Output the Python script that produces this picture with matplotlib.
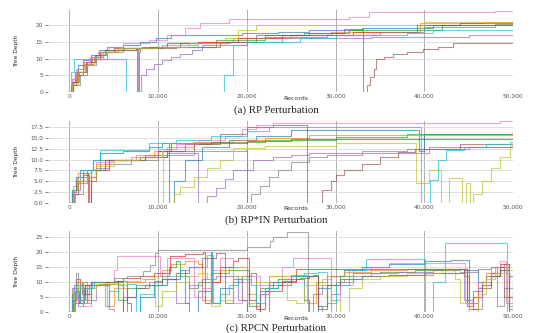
import matplotlib
matplotlib.use("Agg")
import matplotlib.pyplot as plt
from matplotlib.ticker import FuncFormatter

# colours of the 10 runs (matplotlib default cycle)
run_colors = ["#1f77b4", "#ff7f0e", "#2ca02c", "#d62728", "#9467bd",
              "#8c564b", "#e377c2", "#7f7f7f", "#bcbd22", "#17becf"]

x_ticks = [0, 10000, 20000, 30000, 40000, 50000]

# (a) RP Perturbation -- (records, tree depth) breakpoints per run
rp_blue = [(0, 0), (250, 3), (600, 6), (1000, 8), (1600, 9.5), (2400, 11), (3300, 12.5), (4300, 13.5),
           (6000, 14), (8000, 15), (9800, 16), (11500, 17), (19500, 17.5), (23500, 18), (27000, 18.5),
           (33000, 19), (41000, 20), (50000, 20.3)]
rp_orange = [(0, 0), (350, 4), (900, 7), (1700, 9), (2600, 10.5), (3600, 12), (5200, 12.5), (7800, 13),
             (10500, 14), (14500, 15), (18500, 16), (25000, 17), (29500, 18), (39500, 20.5), (46500, 21),
             (50000, 21)]
rp_green = [(0, 0), (450, 3), (1100, 6), (2000, 9), (3000, 11), (4100, 12.5), (6200, 13), (9000, 13.5),
            (12500, 14.5), (16500, 15.5), (22000, 17), (26500, 17.5), (31500, 18.5), (42000, 20), (50000, 20.5)]
rp_red = [(0, 0), (200, 2), (800, 5), (1500, 8), (2500, 10), (3500, 12), (5000, 13), (8200, 13.5),
          (11000, 14.5), (14500, 15), (19000, 16), (24000, 17), (32000, 17.8), (39200, 20), (44000, 20.5),
          (50000, 20.5)]
rp_purple = [(0, 0), (300, 3), (900, 6), (1800, 8.5), (2800, 10.5), (3800, 12), (5500, 13), (7600, 13),
             (7700, 0), (8100, 5), (8600, 7), (9500, 8.5), (10500, 9.5), (11500, 10.5), (12500, 11.5),
             (13800, 12.5), (15000, 13.5), (16500, 14.5), (18000, 15), (24000, 16), (34000, 16.5),
             (45000, 17), (50000, 17.5)]
rp_brown = [(0, 0), (400, 3), (1000, 6), (1900, 9), (2900, 11), (4000, 12.5), (7500, 13), (7600, 0),
            (7800, 12), (8000, 13), (12000, 13.5), (17000, 15), (21000, 17), (27000, 17.5), (31000, 18.7),
            (33000, 18.7), (33100, 0), (33500, 2), (33900, 4.5), (34300, 7), (34600, 9.8), (35500, 10.5),
            (36500, 11.5), (38000, 12), (39900, 12.8), (41500, 13.5), (43200, 14.7), (50000, 14.7)]
rp_pink = [(0, 0), (300, 4), (800, 7), (1500, 9), (2300, 10.5), (3200, 12), (4500, 13.5), (6000, 14.5),
           (9000, 15.5), (11000, 17), (13000, 19), (14700, 20.7), (18000, 21.8), (30500, 21.8),
           (31500, 22.5), (33800, 23.8), (47500, 23.8), (48000, 24.2), (50000, 24.2)]
rp_gray = [(0, 0), (400, 2), (1200, 5), (2000, 8), (3000, 10), (4200, 12), (6000, 13), (9000, 13.5),
           (15000, 14), (20000, 16), (22000, 16.5), (29000, 17), (35000, 18), (40000, 19.5), (48000, 20.3),
           (50000, 20.3)]
rp_olive = [(0, 0), (300, 2.5), (1000, 6), (1800, 8), (2800, 10), (3800, 12), (5500, 13), (10000, 13.5),
            (13500, 14.5), (17500, 16), (19000, 18.5), (21000, 20), (38000, 20), (40000, 21), (50000, 21.3)]
rp_cyan = [(0, 0), (150, 6), (500, 10), (6200, 10), (6400, 0), (17200, 0), (17400, 5), (18200, 5),
           (18500, 14), (20000, 15), (26000, 16), (30000, 17), (38000, 17.5), (41000, 18.5), (50000, 18.5)]

# (b) RP*IN Perturbation
in_blue = [(0, 0), (300, 3), (800, 6), (1200, 7.5), (2000, 7.5), (2700, 10), (3500, 11.6), (6000, 12),
           (9000, 13), (10500, 13.8), (11100, 13.8), (11200, 0), (11500, 0), (11800, 5), (13000, 10),
           (15000, 13), (18000, 14.5), (21000, 15.5), (25000, 16.8), (39300, 16.8), (39400, 12),
           (40000, 16), (50000, 16.8)]
in_orange = [(0, 0), (400, 4), (1000, 7), (2500, 7.5), (3000, 9), (4000, 9.9), (7000, 10.5), (9500, 12),
             (11000, 13), (14000, 14), (18500, 14.5), (22000, 15), (27000, 15.7), (50000, 15.7)]
in_green = [(0, 0), (500, 3), (1200, 6), (2000, 7.5), (3500, 9.9), (8000, 10.5), (10000, 12), (13000, 13.5),
            (16000, 14), (22000, 14.5), (30000, 15.2), (38000, 16), (50000, 16.3)]
in_red = [(0, 0), (300, 2), (1000, 5), (1500, 7), (2100, 7), (2150, 0), (2400, 6), (3000, 7.5), (4500, 9.9),
          (7000, 9.9), (8500, 11), (10000, 12), (11500, 13.8), (20000, 14.2), (25000, 14.7), (50000, 14.7)]
in_purple = [(0, 0), (400, 2), (1000, 4.5), (2000, 6), (3000, 8), (4500, 9.9), (8000, 10.5), (11000, 11.5),
             (14400, 11.5), (14500, 0), (15500, 1.5), (16500, 3.5), (17500, 5.5), (18500, 7.6), (20700, 9.9),
             (23000, 10.5), (25000, 11), (27000, 11.5), (39200, 11.5), (40500, 13), (49000, 13), (50000, 14)]
in_brown = [(0, 0), (300, 2.5), (800, 5), (1500, 6.5), (2100, 6.5), (2200, 0), (2400, 5), (3000, 7.5),
            (4000, 9.9), (8500, 10.5), (11000, 12), (14000, 13.5), (17000, 16), (20000, 17.5), (23000, 18),
            (26700, 18), (26800, 0), (28000, 0), (28500, 3), (29500, 5), (30000, 6.4), (31000, 7.6),
            (33000, 9), (35000, 10.5), (37000, 11.8), (39000, 12.5), (44000, 13.5), (50000, 14)]
in_pink = [(0, 0), (500, 3), (1200, 7), (2000, 7.5), (3000, 9.5), (5000, 10), (7500, 11), (10000, 12.5),
           (12000, 13.5), (14500, 14.5), (17500, 15.5), (19500, 17), (21000, 18), (23000, 18.4),
           (48000, 18.4), (48500, 18.8), (50000, 18.8)]
in_gray = [(0, 0), (600, 2), (1500, 5), (2500, 7.5), (4000, 9), (7000, 9.9), (10000, 11), (14000, 12),
           (19900, 12.2), (20000, 0), (20500, 2), (21500, 4), (22500, 6), (23500, 7.5), (25000, 9.5),
           (27000, 10.5), (29000, 11), (33000, 12), (38000, 12.5), (45000, 13), (50000, 13.5)]
in_olive = [(0, 0), (400, 3), (1000, 5), (2000, 6), (3000, 8.5), (5000, 9.9), (8000, 10.5), (10500, 12),
            (10600, 0), (11000, 0), (11800, 2), (12500, 3.8), (14000, 6), (15500, 8), (17000, 10),
            (18500, 12.6), (22000, 13.2), (30000, 13.8), (39000, 13.8), (39100, 4.6), (40500, 7.6),
            (41800, 7.6), (41900, 0), (42500, 0), (42800, 5.8), (44100, 5.8), (44200, 0), (44700, 4.6),
            (45000, 4.6), (45100, 0), (45500, 2), (46500, 5), (47500, 8), (48500, 10.5), (49700, 13.2),
            (50000, 13.2)]
in_cyan = [(0, 0), (300, 3), (900, 6), (1500, 7.5), (2700, 10), (3500, 12.2), (8000, 12.2), (9000, 13.8),
           (12000, 14.5), (16000, 15.5), (20000, 16.5), (22500, 17.6), (39500, 17.6), (39600, 0),
           (40000, 0), (40700, 5.3), (41600, 9.9), (42500, 12.2), (44500, 13), (47000, 13.5), (49700, 14.1),
           (50000, 14.1)]

# (c) RPCN Perturbation
cn_blue = [(0, 0), (600, 7), (1100, 3), (1700, 8), (2800, 10), (4000, 10), (5500, 10.5), (6500, 3),
           (7000, 0), (8000, 5), (9500, 9), (11000, 11), (12500, 14), (13000, 3), (13500, 0), (14500, 7),
           (16000, 20), (16100, 3), (17000, 8), (18500, 11), (19500, 4), (20000, 0), (21500, 7), (22500, 9),
           (24000, 10.5), (25500, 11), (26500, 4), (27000, 0), (28000, 8), (29500, 12), (31000, 14),
           (33000, 15), (36000, 16), (40000, 17), (43000, 17.5), (44500, 17.5), (45000, 14), (46000, 10),
           (47000, 12), (48500, 14), (49500, 12), (50000, 2)]
cn_orange = [(0, 0), (400, 8), (900, 4), (1500, 9), (2500, 10), (4000, 10), (4300, 2), (5000, 8), (6500, 10),
             (8500, 11), (9500, 12), (10500, 14), (11500, 16), (13000, 17), (14500, 16), (15000, 4),
             (16000, 10), (17000, 14), (18000, 15), (19500, 15), (20000, 6), (21000, 9), (22500, 10),
             (24000, 12), (25000, 12.5), (26000, 12.5), (26800, 3), (27800, 10), (29000, 12), (31000, 13.5),
             (34000, 14), (38000, 14.5), (43000, 14.5), (44500, 12), (45000, 3), (46000, 10), (47000, 13),
             (48000, 15), (49000, 16), (49500, 5), (50000, 9)]
cn_green = [(0, 0), (500, 3), (1200, 9), (1800, 6), (2500, 10), (5000, 10), (5500, 4), (6500, 8), (8500, 9),
            (9500, 10.5), (10500, 12), (11200, 15), (12000, 17), (12500, 12), (13500, 8), (14500, 10),
            (16000, 13), (18000, 14), (19500, 14), (20200, 2), (21500, 8), (23000, 10), (25000, 12),
            (27500, 12.5), (28000, 2), (29000, 9), (30500, 12), (32000, 13), (35000, 13.5), (39000, 14),
            (44000, 14.5), (44800, 3), (45500, 7), (46500, 10), (47500, 12), (48500, 14), (49500, 1),
            (50000, 7)]
cn_red = [(0, 0), (300, 6), (700, 11), (1200, 4), (1800, 9), (2500, 10), (5000, 10.5), (6000, 11.5),
          (8000, 12), (9500, 13), (11400, 18.7), (13000, 19.5), (15100, 20), (15300, 3), (16000, 10),
          (17000, 15), (18500, 17), (19000, 18), (19800, 18), (20200, 4), (21000, 1), (22000, 7), (24000, 10),
          (25500, 14.3), (44700, 14.3), (44800, 2), (45500, 5), (46500, 9), (47500, 13), (48500, 16),
          (49300, 16), (49500, 0), (50000, 0)]
cn_purple = [(0, 0), (500, 9), (1000, 2), (1500, 7), (2000, 4), (3000, 9), (4000, 9), (4500, 1), (5000, 0),
             (6000, 5), (7500, 9), (9000, 10), (10500, 11), (11500, 11), (12000, 3), (12500, 3), (13500, 9),
             (15000, 11), (16500, 12), (18000, 12), (19000, 4), (20000, 0), (21500, 6), (22500, 10),
             (23500, 11), (25000, 12), (27000, 12), (28000, 2), (28500, 0), (29500, 6), (30500, 10),
             (32000, 12), (34000, 13), (37000, 13.5), (41000, 14), (43500, 14.2), (44500, 4), (45500, 1),
             (46500, 9), (47500, 12), (48500, 15), (49200, 15), (49600, 2), (50000, 4)]
cn_brown = [(0, 0), (400, 4), (800, 10), (1400, 6), (2200, 9), (3500, 9.5), (5500, 10), (6000, 0), (6500, 5),
            (7500, 8), (9000, 9), (10500, 11), (12000, 13), (13500, 15), (15000, 18), (16500, 19.8),
            (17200, 19.8), (17500, 3), (18500, 10), (19500, 12), (20500, 13), (21000, 3), (21500, 0),
            (22500, 8), (23500, 9), (25000, 11), (26000, 11.5), (27000, 12), (28000, 1), (29000, 9),
            (30500, 11), (33000, 12), (36000, 12.5), (40000, 13), (44500, 14), (45000, 1), (46000, 8),
            (47500, 12), (48500, 15), (49000, 5), (50000, 3)]
cn_pink = [(0, 0), (300, 3), (800, 8), (1500, 2), (2500, 9), (4500, 9.5), (5000, 14), (5400, 18.7),
           (10000, 18.7), (10200, 12), (11000, 18), (13500, 18), (14000, 5), (15000, 8), (16000, 14),
           (17000, 18), (18200, 18), (18400, 3), (19500, 10), (20500, 12), (21500, 6), (22500, 12),
           (24000, 15), (25200, 18), (29400, 18), (29500, 4), (30500, 9), (32000, 14), (34000, 15),
           (36000, 16.4), (44400, 16.4), (44600, 3), (46000, 10), (47500, 15), (48500, 17), (49000, 17),
           (49200, 3), (50000, 12)]
cn_gray = [(0, 0), (300, 8), (700, 13), (1000, 5), (1500, 10), (2000, 3), (2500, 9), (4500, 10), (5000, 11.3),
           (6500, 12), (8300, 13.7), (9100, 15.8), (9700, 19.7), (10000, 20.8), (20000, 21.8), (22600, 23.7),
           (23000, 24.9), (24500, 26.7), (26800, 26.7), (26900, 0), (27500, 6), (28500, 9), (30000, 10),
           (31000, 11), (33000, 12), (36000, 12.5), (41000, 13), (44000, 13.5), (46000, 14.5), (47500, 15),
           (48200, 2), (49000, 8), (50000, 10)]
cn_olive = [(0, 0), (500, 6), (1000, 10), (1500, 4), (2200, 8), (3000, 9.5), (5000, 9.5), (6000, 10.5),
            (8000, 11), (9500, 11.5), (9700, 2), (10500, 7), (12000, 10), (13500, 12), (14500, 13),
            (15500, 11), (16000, 2), (17000, 4), (18500, 12), (19500, 12), (20000, 3), (21000, 10),
            (22500, 12), (24000, 11), (24500, 4), (25500, 3), (26500, 9), (28500, 11), (29500, 4),
            (30500, 0), (31500, 8), (33000, 11), (35000, 12), (38000, 13), (42000, 14), (43500, 11),
            (44000, 3), (45000, 0), (46000, 6), (47000, 11), (48000, 13), (49500, 14), (50000, 12)]
cn_cyan = [(0, 0), (300, 5), (700, 9), (1200, 3), (2000, 8), (2600, 10), (3500, 10), (4000, 2), (4500, 7),
           (5500, 9), (6500, 9.5), (7500, 0), (8000, 6), (9500, 9), (11000, 12), (12500, 14), (13500, 15),
           (15500, 19), (16100, 19), (16200, 3), (17000, 6), (18000, 9), (19000, 11), (20500, 9), (21000, 3),
           (22000, 8), (23500, 11), (25000, 12), (26500, 13), (28000, 13.5), (29000, 3), (30000, 9),
           (31500, 14), (33400, 17.7), (40000, 17.7), (40100, 0), (41000, 10), (42300, 23), (49200, 23),
           (49300, 0), (50000, 3)]

panels = [
    ("(a) RP Perturbation", [rp_blue, rp_orange, rp_green, rp_red, rp_purple, rp_brown, rp_pink, rp_gray,
                             rp_olive, rp_cyan], [0, 5, 10, 15, 20], 24.5, "{:.0f}"),
    ("(b) RP*IN Perturbation", [in_blue, in_orange, in_green, in_red, in_purple, in_brown, in_pink, in_gray,
                                in_olive, in_cyan], [0, 2.5, 5, 7.5, 10, 12.5, 15, 17.5], 18.9, "{:.1f}"),
    ("(c) RPCN Perturbation", [cn_blue, cn_orange, cn_green, cn_red, cn_purple, cn_brown, cn_pink, cn_gray,
                               cn_olive, cn_cyan], [0, 5, 10, 15, 20, 25], 27, "{:.0f}"),
]

# pixel layout of the reference (533x333)
W, H = 533, 333
ax_left, ax_right = 48, 513
ax_rows = [(10, 92), (121, 203), (231, 312)]
label_rows = [(99, 110), (209, 220), (319, 328)]

fig = plt.figure(figsize=(W / 100, H / 100), dpi=100)

for (title, runs, yticks, ytop, yfmt), (top, bottom), (rec_y, title_y) in zip(panels, ax_rows, label_rows):
    ax = fig.add_axes([ax_left / W, 1 - bottom / H, (ax_right - ax_left) / W, (bottom - top) / H])
    for run, c in zip(runs, run_colors):
        xs = [p[0] for p in run]
        ys = [p[1] for p in run]
        ax.step(xs, ys, where="post", color=c, lw=0.8, alpha=0.65)

    ax.set_xlim(-2400, 50000)
    ax.set_ylim(0, ytop)
    ax.set_xticks(x_ticks)
    ax.set_yticks(yticks)
    ax.xaxis.set_major_formatter(FuncFormatter(lambda v, p: f"{int(v):,}"))
    ax.yaxis.set_major_formatter(FuncFormatter(lambda v, p, f=yfmt: f.format(v)))
    ax.tick_params(axis="both", labelsize=4.2, colors="#555555", pad=1.5)
    ax.tick_params(axis="x", length=0)
    ax.tick_params(axis="y", length=2, width=0.5)
    ax.grid(axis="y", color="#d8d8d8", lw=0.6)
    ax.grid(axis="x", color="#b0b0b0", lw=0.7)
    ax.set_axisbelow(True)
    for s in ax.spines.values():
        s.set_visible(False)

    h = bottom - top
    ax.text((296 - ax_left) / (ax_right - ax_left), (bottom - rec_y) / h, "Records",
            transform=ax.transAxes, ha="center", va="center", fontsize=4.5, color="#333333")
    ax.text((276 - ax_left) / (ax_right - ax_left), (bottom - title_y) / h, title,
            transform=ax.transAxes, ha="center", va="center", fontsize=7.8,
            family="Liberation Serif", color="#222222")
    ax.text((17 - ax_left) / (ax_right - ax_left), 0.5, "Tree Depth", rotation=90,
            transform=ax.transAxes, ha="center", va="center", fontsize=4.2, color="#333333")

fig.savefig("out.png", dpi=100)
